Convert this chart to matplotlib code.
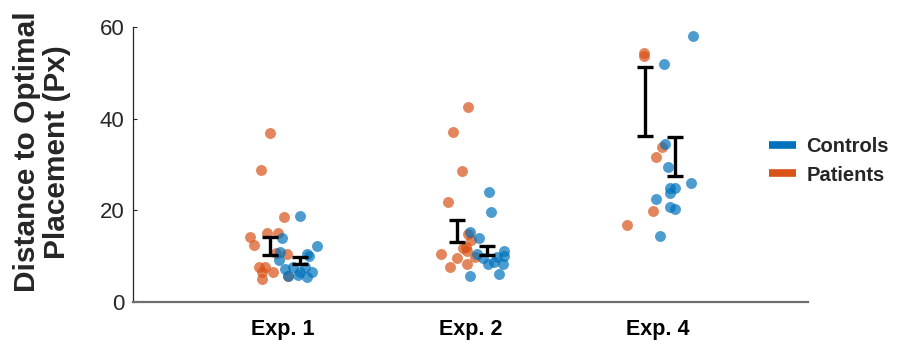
import matplotlib.pyplot as plt
from matplotlib.lines import Line2D
import numpy as np

# experiments on the x axis
experiments = ["Exp. 1", "Exp. 2", "Exp. 4"]

# distance to optimal placement (px)
patients = [
    [36.9, 28.8, 18.5, 15.0, 15.0, 14.2, 12.4, 10.8, 10.4, 7.6, 7.6, 6.6, 6.6, 5.1, 5.7],
    [42.6, 37.0, 28.6, 21.9, 14.8, 13.5, 12.1, 10.4, 7.6, 9.5, 8.4, 9.9, 11.7, 11.1],
    [54.3, 53.6, 33.8, 31.7, 19.9, 16.8],
]
controls = [
    [18.8, 12.2, 14.0, 11.0, 10.1, 10.5, 9.2, 7.3, 7.7, 7.7, 6.6, 6.6, 5.9, 5.5, 5.7],
    [24.1, 19.7, 15.3, 14.0, 10.4, 11.2, 10.1, 8.4, 8.8, 8.4, 9.9, 5.7, 6.1, 9.5],
    [58.1, 51.9, 34.4, 29.5, 26.0, 24.8, 24.8, 23.7, 22.5, 20.7, 20.4, 14.4],
]

# horizontal jitter of each point around its experiment
patients_jitter = [
    [-0.069, -0.119, 0.007, -0.084, -0.027, -0.176, -0.155, -0.037, 0.023,
     -0.126, -0.096, -0.114, -0.056, -0.115, 0.027],
    [-0.015, -0.092, -0.047, -0.122, -0.012, 0.003, -0.026, -0.159, -0.109,
     -0.070, -0.020, 0.024, -0.038, -0.020],
    [-0.078, -0.076, 0.020, -0.011, -0.025, -0.167],
]
controls_jitter = [
    [0.091, 0.179, -0.007, -0.016, 0.140, 0.128, -0.020, 0.011, 0.055, 0.117,
     0.091, 0.153, 0.082, 0.126, 0.027],
    [0.100, 0.108, -0.003, 0.045, 0.033, 0.179, 0.180, 0.175, 0.127, 0.092,
     0.140, -0.001, 0.152, 0.068],
    [0.188, 0.032, 0.037, 0.055, 0.174, 0.064, 0.091, 0.064, -0.012, 0.064,
     0.091, 0.011],
]

# error bar ranges (low, high)
patients_bar = [(10.25, 14.1), (13.0, 18.0), (36.2, 51.2)]
controls_bar = [(8.2, 9.8), (10.25, 12.3), (27.5, 35.9)]

blue = "#0072BD"
orange = "#D95319"
text_col = "#262626"
font = ["Liberation Sans", "DejaVu Sans"]


def draw_group(ax, values, jitter, bars, color, offset):
    """Scatter one group's points and its error bars."""
    for i, (vals, jit) in enumerate(zip(values, jitter)):
        ax.scatter(np.full(len(vals), i + 1) + np.array(jit), vals, s=62,
                   color=color, alpha=0.7, linewidths=0, zorder=2)
    for i, (lo, hi) in enumerate(bars):
        mid = (lo + hi) / 2
        ax.errorbar(i + 1 + offset, mid, yerr=[[mid - lo], [hi - mid]],
                    fmt="none", ecolor="black", elinewidth=2.4, capsize=5.5,
                    capthick=2.4, zorder=3)


def main():
    fig = plt.figure(figsize=(8.99, 3.45), dpi=100)
    ax = fig.add_axes([0.148, 0.1246, 0.751, 0.7971])

    draw_group(ax, patients, patients_jitter, patients_bar, orange, -0.07)
    draw_group(ax, controls, controls_jitter, controls_bar, blue, 0.088)

    ax.set_xlim(0.2, 3.8)
    ax.set_ylim(0, 60)
    ax.set_yticks([0, 20, 40, 60])
    ax.set_xticks([1, 2, 3])
    ax.set_xticklabels(experiments, fontsize=15.5, fontweight="bold",
                       family=font, color="black")
    ax.tick_params(axis="x", length=0, pad=12)
    ax.tick_params(axis="y", direction="in", length=3, labelsize=16,
                   colors=text_col, pad=6)
    for lab in ax.get_yticklabels():
        lab.set_family(font)

    ax.spines["top"].set_visible(False)
    ax.spines["right"].set_visible(False)
    ax.spines["left"].set_color(text_col)
    ax.spines["left"].set_linewidth(0.9)
    ax.spines["bottom"].set_color("#6e6e6e")
    ax.spines["bottom"].set_linewidth(1.6)

    fig.text(42 / 899, 1 - 152 / 345, "Distance to Optimal\nPlacement (Px)",
             rotation=90, ha="center", va="center", multialignment="center",
             fontsize=21.5, fontweight="bold", color=text_col,
             family=font, linespacing=1.1)

    handles = [Line2D([], [], color=blue, lw=5.5, solid_capstyle="butt"),
               Line2D([], [], color=orange, lw=5.5, solid_capstyle="butt")]
    leg = fig.legend(handles, ["Controls", "Patients"], loc="center left",
                     bbox_to_anchor=(769 / 899, 1 - 161 / 345), frameon=False,
                     prop={"family": font, "weight": "bold", "size": 14.5},
                     handlelength=1.35, handletextpad=0.5, labelspacing=0.45,
                     borderpad=0, borderaxespad=0)
    for t in leg.get_texts():
        t.set_color(text_col)

    fig.savefig("out.png", dpi=100)
    plt.close(fig)


if __name__ == "__main__":
    main()
